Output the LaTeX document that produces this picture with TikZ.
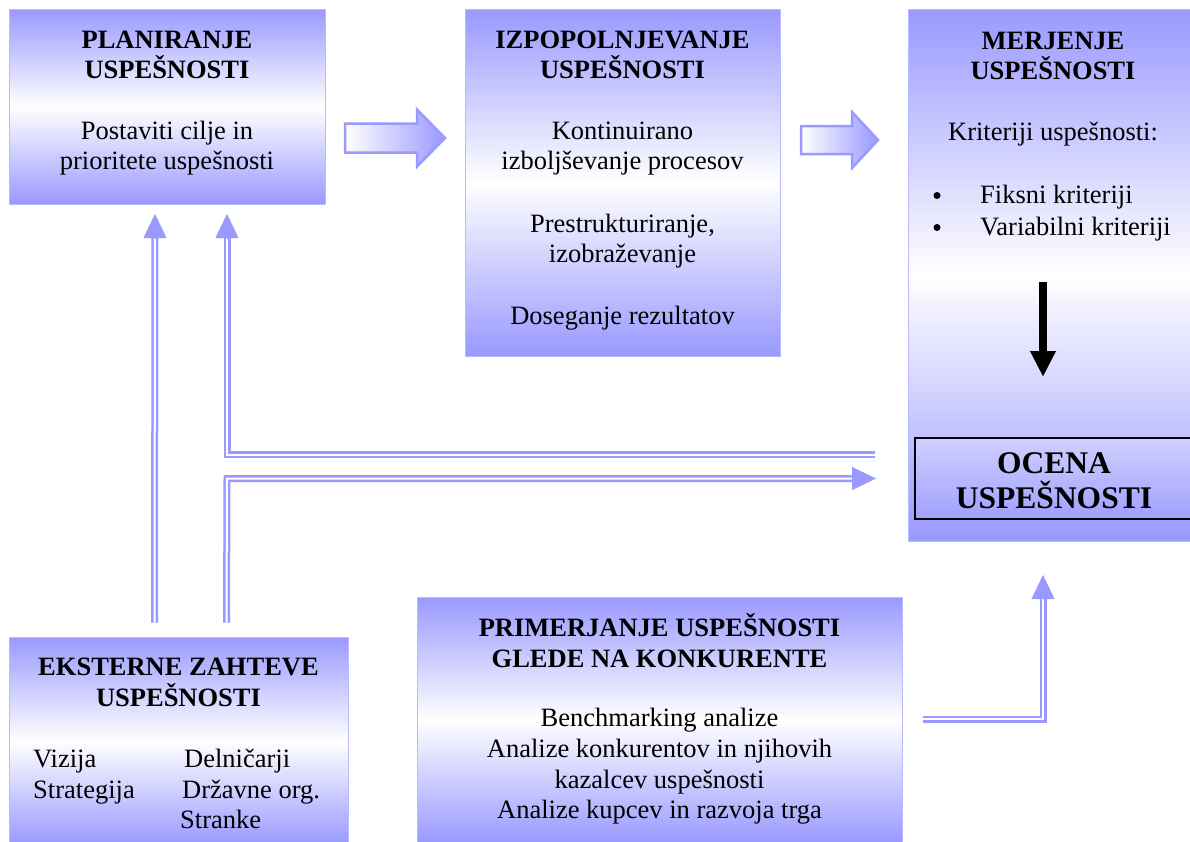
\documentclass[tikz,border=0pt]{standalone}
\usepackage{fontspec}
\setmainfont{Liberation Serif}
\usetikzlibrary{arrows.meta,calc}
\definecolor{ablue}{RGB}{153,153,255}
\definecolor{edgeblue}{RGB}{185,185,255}
\definecolor{ocenatop}{RGB}{208,208,255}
\definecolor{ocenabot}{RGB}{160,160,255}
\newcommand\bodyfont{\fontsize{26.5}{30.5}\selectfont}
\newcommand\ocenafont{\fontsize{31.5}{36}\selectfont\bfseries}
\tikzset{
  box/.style={rectangle, draw=edgeblue, line width=1pt, top color=ablue, bottom color=ablue, middle color=white, inner sep=0pt},
  ocenabox/.style={rectangle, draw=black, line width=2.5pt, top color=ocenatop, bottom color=ocenabot, inner sep=0pt},
  txt/.style={anchor=base, inner sep=0pt, font=\bodyfont},
  ttl/.style={anchor=base, inner sep=0pt, font=\bodyfont\bfseries},
  txtl/.style={anchor=base west, inner sep=0pt, font=\bodyfont},
  bulletdot/.style={circle, fill=black, inner sep=0pt, minimum size=7pt},
  blockarrow/.style={draw=ablue, line width=2.5pt, left color=white, right color=ablue, line join=miter},
  dbl/.style={draw=ablue, double=white, double distance=2pt, line width=2.5pt, line join=miter},
  dtip/.style={draw=ablue, line width=0.4pt, -{Triangle[length=24pt,width=23pt]}},
}
\begin{document}
\begin{tikzpicture}[x=1pt,y=-1pt]
\useasboundingbox (0,0) rectangle (1190,841);
\fill[white] (0,0) rectangle (1190,841);

% boxes
\node[box, minimum width=316pt, minimum height=195pt] (plan) at (167,106.5) {};
\node[box, minimum width=315pt, minimum height=347pt] (izp) at (622.5,182.5) {};
\node[box, minimum width=290pt, minimum height=532pt] (mer) at (1053,275) {};
\node[box, minimum width=339pt, minimum height=208pt] (eks) at (178.5,741) {};
\node[box, minimum width=485pt, minimum height=246pt] (prim) at (659.5,720) {};
\node[ocenabox, minimum width=278pt, minimum height=81pt] (ocena) at (1054,478.5) {};

% texts: planiranje
\node[ttl] (p1) at (167,48) {PLANIRANJE};
\node[ttl] (p2) at (167,78.5) {USPEŠNOSTI};
\node[txt] (p3) at (167,139) {Postaviti cilje in};
\node[txt] (p4) at (167,169) {prioritete uspešnosti};

% izpopolnjevanje
\node[ttl] (i1) at (622.5,48) {IZPOPOLNJEVANJE};
\node[ttl] (i2) at (622.5,78.5) {USPEŠNOSTI};
\node[txt] (i3) at (622.5,139) {Kontinuirano};
\node[txt] (i4) at (622.5,169) {izboljševanje procesov};
\node[txt] (i5) at (622.5,232) {Prestrukturiranje,};
\node[txt] (i6) at (622.5,262) {izobraževanje};
\node[txt] (i7) at (622.5,324) {Doseganje rezultatov};

% merjenje
\node[ttl] (m1) at (1053,49) {MERJENJE};
\node[ttl] (m2) at (1053,79) {USPEŠNOSTI};
\node[txt] (m3) at (1053,140) {Kriteriji uspešnosti:};
\node[bulletdot] (mb1) at (937,195.5) {};
\node[bulletdot] (mb2) at (937,227.5) {};
\node[txtl] (m4) at (980,203) {Fiksni kriteriji};
\node[txtl] (m5) at (980,235) {Variabilni kriteriji};
\node[anchor=base, inner sep=0pt, font=\ocenafont] (o1) at (1054,473) {OCENA};
\node[anchor=base, inner sep=0pt, font=\ocenafont] (o2) at (1054,508) {USPEŠNOSTI};

% eksterne
\node[ttl] (e1) at (178.5,675) {EKSTERNE ZAHTEVE};
\node[ttl] (e2) at (178.5,706) {USPEŠNOSTI};
\node[txtl] (e3) at (33,767) {Vizija};
\node[txtl] (e4) at (184,767) {Delničarji};
\node[txtl] (e5) at (33,798) {Strategija};
\node[txtl] (e6) at (182,798) {Državne org.};
\node[txtl] (e7) at (180,828) {Stranke};

% primerjanje
\node[ttl] (r1) at (659.5,636) {PRIMERJANJE USPEŠNOSTI};
\node[ttl] (r2) at (659.5,667) {GLEDE NA KONKURENTE};
\node[txt] (r3) at (659.5,726) {Benchmarking analize};
\node[txt] (r4) at (659.5,757) {Analize konkurentov in njihovih};
\node[txt] (r5) at (659.5,788) {kazalcev uspešnosti};
\node[txt] (r6) at (659.5,818) {Analize kupcev in razvoja trga};

% block arrows
\shade[blockarrow] (345,123.5) -- (417,123.5) -- (417,109.5) -- (445,138) -- (417,166.5) -- (417,152.5) -- (345,152.5) -- cycle;
\shade[blockarrow] (801,126) -- (852,126) -- (852,112) -- (878,140) -- (852,168) -- (852,154) -- (801,154) -- cycle;

% black arrow inside merjenje
\coordinate (ka) at (1043,282);
\coordinate (kb) at (1043,377);
\draw[line width=8pt, -{Triangle[length=26pt,width=24pt]}] (ka) -- (kb);

% double-line connectors
\coordinate (a1s) at ($(eks.north west)+(146,-14)$);
\coordinate (a1b) at (155,238);
\coordinate (a1t) at (155,214);
\draw[dbl] (a1s) -- (155,236);
\draw[dtip] (a1b) -- (a1t);

\coordinate (a2s) at ($(eks.north west)+(218,-14)$);
\coordinate (a2c) at (227,478.5);
\coordinate (a2b) at (852,478.5);
\coordinate (a2t) at (876,478.5);
\draw[dbl] (a2s) -- (a2c) -- (854,478.5);
\draw[dtip] (a2b) -- (a2t);

\coordinate (a3s) at (875,454.5);
\coordinate (a3c) at (227,454.5);
\coordinate (a3b) at (227,238);
\coordinate (a3t) at (227,214);
\draw[dbl] (a3s) -- (a3c) -- (227,236);
\draw[dtip] (a3b) -- (a3t);

\coordinate (a4s) at (923,719);
\coordinate (a4c) at (1043,719);
\coordinate (a4b) at (1043,598);
\coordinate (a4t) at (1043,575);
\draw[dbl] (a4s) -- (a4c) -- (1043,596);
\draw[dtip] (a4b) -- (a4t);
\end{tikzpicture}
\end{document}
